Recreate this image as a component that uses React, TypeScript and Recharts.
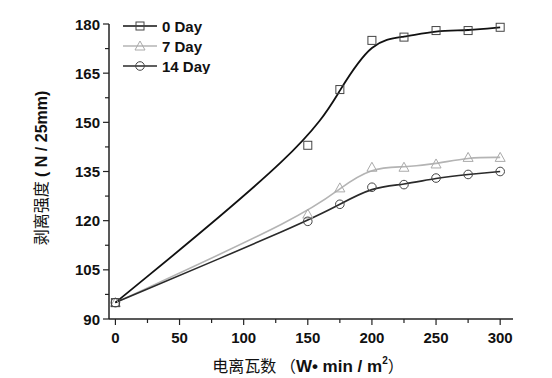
import React from "react";
import { LineChart, Line, XAxis, YAxis, Legend } from "recharts";

const xValues = [0, 150, 175, 200, 225, 250, 275, 300];
const day0 = [95, 143, 160, 175, 176, 178, 178, 179];
const day7 = [95, 122, 130, 136.3, 136.3, 137.3, 139.3, 139.3];
const day14 = [95, 119.8, 125, 130.2, 131, 133, 134.1, 135];

const xTicks = [0, 25, 50, 75, 100, 125, 150, 175, 200, 225, 250, 275, 300];
const xMajor = [0, 50, 100, 150, 200, 250, 300];
const yTicks = [90, 97.5, 105, 112.5, 120, 127.5, 135, 142.5, 150, 157.5, 165, 172.5, 180];
const yMajor = [90, 105, 120, 135, 150, 165, 180];

const seriesNames = ["0 Day", "7 Day", "14 Day"];

const data = xValues.map((x, i) => ({ x, d0: day0[i], d7: day7[i], d14: day14[i] }));

const FONT = "'Liberation Sans', Arial, sans-serif";
const CJK = "'Noto Sans CJK SC', sans-serif";
const AXIS = "#222";

const XTick = (props: any) => {
  const { x, y, payload } = props;
  const major = xMajor.includes(payload.value);
  return (
    <g>
      <line x1={x} x2={x} y1={y} y2={y + (major ? 6 : 4)} stroke={AXIS} strokeWidth={1.2} />
      {major && (
        <text x={x} y={y + 24} textAnchor="middle" fontFamily={FONT} fontWeight="bold" fontSize={15} fill="#111">
          {payload.value}
        </text>
      )}
    </g>
  );
};

const YTick = (props: any) => {
  const { x, y, payload } = props;
  const major = yMajor.includes(payload.value);
  return (
    <g>
      <line x1={x} x2={x - (major ? 6 : 4)} y1={y} y2={y} stroke={AXIS} strokeWidth={1.2} />
      {major && (
        <text x={x - 9} y={y + 5.5} textAnchor="end" fontFamily={FONT} fontWeight="bold" fontSize={15} fill="#111">
          {payload.value}
        </text>
      )}
    </g>
  );
};

const Square = (props: any) => {
  const { cx, cy, index } = props;
  return <rect key={"s" + index} x={cx - 4} y={cy - 4} width={8} height={8} fill="none" stroke="#444" strokeWidth={1} />;
};
const Triangle = (props: any) => {
  const { cx, cy, index } = props;
  return (
    <path key={"t" + index} d={`M${cx},${cy - 5}L${cx + 5},${cy + 4}L${cx - 5},${cy + 4}Z`} fill="none" stroke="#aaa" strokeWidth={1} />
  );
};
const Circle = (props: any) => {
  const { cx, cy, index } = props;
  return <circle key={"c" + index} cx={cx} cy={cy} r={4.3} fill="none" stroke="#444" strokeWidth={1} />;
};

const colors = ["#111", "#b4b4b4", "#2a2a2a"];

const LegendContent = () => {
  const rows = [0, 20, 40];
  return (
    <svg width={110} height={56} style={{ display: "block" }}>
      {rows.map((ry, i) => {
        const cy = ry + 8;
        const cx = 20;
        return (
          <g key={i}>
            <line x1={3} x2={37} y1={cy} y2={cy} stroke={colors[i]} strokeWidth={1.6} />
            {i === 0 && <rect x={cx - 4} y={cy - 4} width={8} height={8} fill="none" stroke="#444" />}
            {i === 1 && <path d={`M${cx},${cy - 5}L${cx + 5},${cy + 4}L${cx - 5},${cy + 4}Z`} fill="none" stroke="#aaa" />}
            {i === 2 && <circle cx={cx} cy={cy} r={4.3} fill="none" stroke="#444" />}
            <text x={42} y={cy + 5.5} fontFamily={FONT} fontWeight="bold" fontSize={15} fill="#111">
              {seriesNames[i]}
            </text>
          </g>
        );
      })}
    </svg>
  );
};

const XLabel = () => {
  return (
    <text x={308} y={372} textAnchor="middle" fontSize={16} fill="#111">
      <tspan fontFamily={CJK}>电离瓦数 （</tspan>
      <tspan fontFamily={FONT} fontWeight="bold" fontSize={17}>W• min / m</tspan>
      <tspan fontFamily={FONT} fontWeight="bold" fontSize={10} dy={-8}>2</tspan>
      <tspan fontFamily={CJK} dy={8}>）</tspan>
    </text>
  );
};

const YLabel = () => {
  const cx = 47;
  const cy = 168;
  return (
    <text x={cx} y={cy} transform={`rotate(-90 ${cx} ${cy})`} textAnchor="middle" fontSize={16} fill="#111">
      <tspan fontFamily={CJK}>剥离强度</tspan>
      <tspan fontFamily={FONT} fontWeight="bold"> ( N / 25mm)</tspan>
    </text>
  );
};

export default function App() {
  return (
    <div style={{ position: "absolute", left: 0, top: 0, background: "#fff" }}>
      <LineChart width={552} height={378} data={data} margin={{ top: 24, right: 39, bottom: 14, left: 39 }}>
        <XAxis
          dataKey="x"
          type="number"
          domain={[-5, 310]}
          ticks={xTicks}
          interval={0}
          tickSize={0}
          tickMargin={0}
          tickLine={false}
          tick={<XTick />}
          height={45}
          axisLine={{ stroke: AXIS, strokeWidth: 1.5 }}
          label={<XLabel />}
        />
        <YAxis
          type="number"
          domain={[90, 180]}
          ticks={yTicks}
          interval={0}
          tickSize={0}
          tickMargin={0}
          tickLine={false}
          tick={<YTick />}
          width={70}
          axisLine={{ stroke: AXIS, strokeWidth: 1.5 }}
          label={<YLabel />}
        />
        <Legend
          layout="horizontal"
          verticalAlign="middle"
          align="center"
          content={<LegendContent />}
          wrapperStyle={{ position: "absolute", left: 120, top: 18, width: 110 }}
        />
        <Line name={seriesNames[1]} dataKey="d7" type="basis" stroke={colors[1]} strokeWidth={1.6} dot={<Triangle />} isAnimationActive={false} />
        <Line name={seriesNames[2]} dataKey="d14" type="basis" stroke={colors[2]} strokeWidth={1.6} dot={<Circle />} isAnimationActive={false} />
        <Line name={seriesNames[0]} dataKey="d0" type="basis" stroke={colors[0]} strokeWidth={1.8} dot={<Square />} isAnimationActive={false} />
      </LineChart>
    </div>
  );
}
